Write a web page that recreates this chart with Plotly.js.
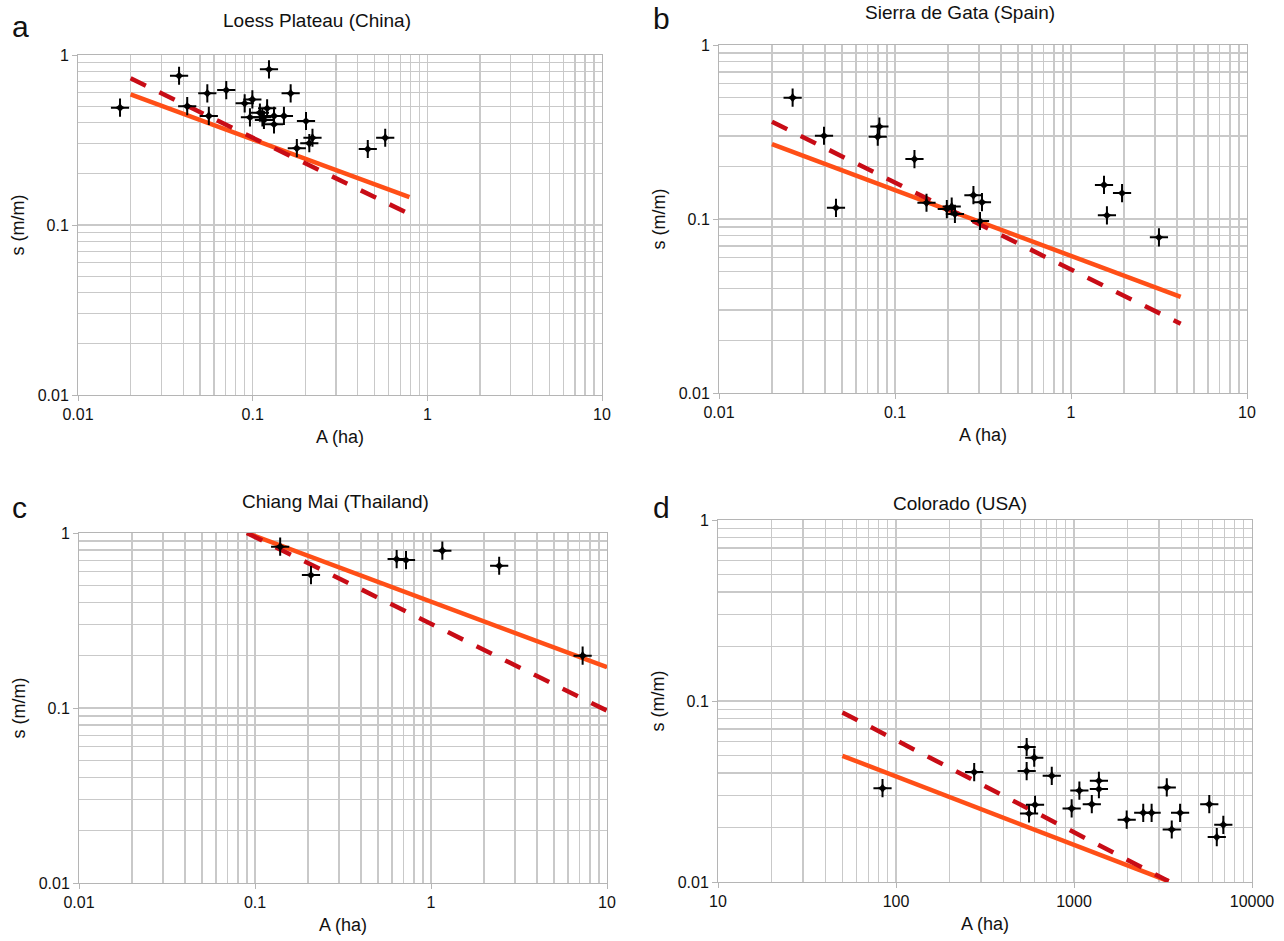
<!DOCTYPE html>
<html>
<head>
<meta charset="utf-8">
<script src="https://cdn.plot.ly/plotly-3.0.1.min.js"></script>
<style>html,body{margin:0;padding:0;background:#fff;}#chart{width:1284px;height:941px;}</style>
</head>
<body>
<div id="chart"></div>
<script>
// ---- Data (A in ha, s in m/m) ----
const loessA = [0.0174,0.0379,0.0422,0.055,0.0561,0.0706,0.090,0.0996,0.0965,0.110,0.1137,0.116,0.121,0.124,0.1325,0.1325,0.151,0.165,0.202,0.179,0.211,0.220,0.456,0.574];
const loessS = [0.49,0.755,0.50,0.595,0.438,0.622,0.52,0.548,0.43,0.458,0.43,0.415,0.486,0.824,0.438,0.391,0.438,0.595,0.409,0.283,0.303,0.326,0.28,0.326];
const loessFitA = [0.02, 0.79];
const loessSolidS = [0.587, 0.146];
const loessDashS = [0.729, 0.116];

const sierraA = [0.0262,0.0395,0.0462,0.0815,0.0798,0.129,0.151,0.197,0.21,0.219,0.279,0.312,0.304,1.54,1.95,1.6,3.16];
const sierraS = [0.498,0.301,0.116,0.34,0.297,0.221,0.124,0.114,0.118,0.107,0.137,0.125,0.0974,0.157,0.141,0.105,0.0785];
const sierraFitA = [0.02, 4.2];
const sierraSolidS = [0.269, 0.0357];
const sierraDashS = [0.362, 0.025];

const chiangA = [0.139,0.208,0.638,0.721,1.16,2.44,7.27];
const chiangS = [0.835,0.575,0.71,0.70,0.792,0.65,0.199];
const chiangFitA = [0.09, 10];
const chiangSolidS = [1.0, 0.171];
const chiangDashS = [1.0, 0.0966];

const coloradoA = [542,598,542,275,750,84,1072,1380,1380,3320,604,559,970,1259,1977,2449,2729,3945,3541,5754,6900,6340];
const coloradoS = [0.0557,0.0486,0.041,0.0405,0.0386,0.033,0.032,0.0362,0.0326,0.0333,0.0267,0.0239,0.0255,0.0269,0.0221,0.0241,0.0241,0.0241,0.0195,0.0269,0.0207,0.0177];
const coloradoFitA = [50, 3400];
const coloradoSolidS = [0.0498, 0.0101];
const coloradoDashS = [0.0865, 0.0101];

const panelTitles = ['Loess Plateau (China)','Sierra de Gata (Spain)','Chiang Mai (Thailand)','Colorado (USA)'];
const panelLetters = ['a','b','c','d'];
const xTitle = 'A (ha)';
const yTitle = 's (m/m)';

// ---- Styling helpers ----
const W = 1284, H = 941;
const GRID = '#c9c9c9';
const FONT = 'Liberation Sans, Arial, sans-serif';
function px2x(p){ return p / W; }
function px2y(p){ return 1 - p / H; }
function minorVals(lo, hi){ const v=[]; for(let p=lo;p<hi;p++){ for(let k=2;k<=9;k++){ v.push(+(k*Math.pow(10,p)).toPrecision(3)); } } return v; }
function majorVals(lo, hi){ const v=[]; for(let p=lo;p<=hi;p++){ v.push(+Math.pow(10,p).toPrecision(3)); } return v; }
function fmt(v){ return v >= 1 ? String(Math.round(v)) : String(v); }

function axis(lo, hi, dom, anchor, titleText){
  const maj = majorVals(lo, hi);
  return {
    type: 'log', range: [lo, hi], domain: dom, anchor: anchor,
    tickmode: 'array', tickvals: maj, ticktext: maj.map(fmt),
    ticks: 'outside', ticklen: 5, tickcolor: '#b5b5b5', tickwidth: 1,
    showgrid: true, gridcolor: GRID, gridwidth: 1.2,
    minor: { tickmode: 'array', tickvals: minorVals(lo, hi), showgrid: true, gridcolor: GRID, gridwidth: 1.2, ticks: '' },
    showline: true, linecolor: '#b5b5b5', linewidth: 1, mirror: true,
    zeroline: false,
    tickfont: { family: FONT, size: 16, color: '#111' },
    title: { text: titleText, font: { family: FONT, size: 18, color: '#111' }, standoff: 8 }
  };
}

// pixel boxes of plot areas [x0,x1,y0(top),y1(bottom)]
const boxes = [
  [78, 602, 55, 395],
  [719, 1247, 45, 393],
  [79, 607, 533, 883],
  [718, 1252, 520, 882]
];
const xr = [[-2,1],[-2,1],[-2,1],[1,4]];
const yr = [[-2,0],[-2,0],[-2,0],[-2,0]];

const datasets = [
  [loessA, loessS, loessFitA, loessSolidS, loessDashS],
  [sierraA, sierraS, sierraFitA, sierraSolidS, sierraDashS],
  [chiangA, chiangS, chiangFitA, chiangSolidS, chiangDashS],
  [coloradoA, coloradoS, coloradoFitA, coloradoSolidS, coloradoDashS]
];

const traces = [];
const layout = {
  width: W, height: H, margin: {l:0, r:0, t:0, b:0},
  paper_bgcolor: '#fff', plot_bgcolor: '#fff', showlegend: false,
  annotations: []
};

datasets.forEach((d, i) => {
  const n = i === 0 ? '' : String(i+1);
  const xa = 'x' + n, ya = 'y' + n;
  const b = boxes[i];
  layout['xaxis' + n] = axis(xr[i][0], xr[i][1], [px2x(b[0]), px2x(b[1])], ya, xTitle);
  layout['yaxis' + n] = axis(yr[i][0], yr[i][1], [px2y(b[3]), px2y(b[2])], xa, yTitle);
  traces.push({ x: d[2], y: d[3], xaxis: xa, yaxis: ya, mode: 'lines', line: { color: '#ff4f17', width: 4.5 }, hoverinfo: 'skip' });
  traces.push({ x: d[2], y: d[4], xaxis: xa, yaxis: ya, mode: 'lines', line: { color: '#c80c16', width: 4.5, dash: '17px,15px' }, hoverinfo: 'skip' });
  traces.push({ x: d[0], y: d[1], xaxis: xa, yaxis: ya, mode: 'markers', marker: { symbol: 'cross-thin', size: 13, color: '#000', line: { color: '#000', width: 2 } }, cliponaxis: false });
  traces.push({ x: d[0], y: d[1], xaxis: xa, yaxis: ya, mode: 'markers', marker: { symbol: 'star-diamond', size: 8, color: '#000', line: { width: 0 } }, cliponaxis: false });
});

const titlePos = [[317, 20], [960, 13], [335, 502], [960, 503]];
const letterPos = [[21, 26], [661, 19], [19, 507], [661, 507]];
panelTitles.forEach((t, i) => {
  layout.annotations.push({ text: t, xref: 'paper', yref: 'paper', x: px2x(titlePos[i][0]), y: px2y(titlePos[i][1]), xanchor: 'center', yanchor: 'middle', showarrow: false, font: { family: FONT, size: 19, color: '#111' } });
  layout.annotations.push({ text: panelLetters[i], xref: 'paper', yref: 'paper', x: px2x(letterPos[i][0]), y: px2y(letterPos[i][1]), xanchor: 'center', yanchor: 'middle', showarrow: false, font: { family: FONT, size: 30, color: '#111' } });
});

Plotly.newPlot('chart', traces, layout, { staticPlot: true, displayModeBar: false });
</script>
</body>
</html>
